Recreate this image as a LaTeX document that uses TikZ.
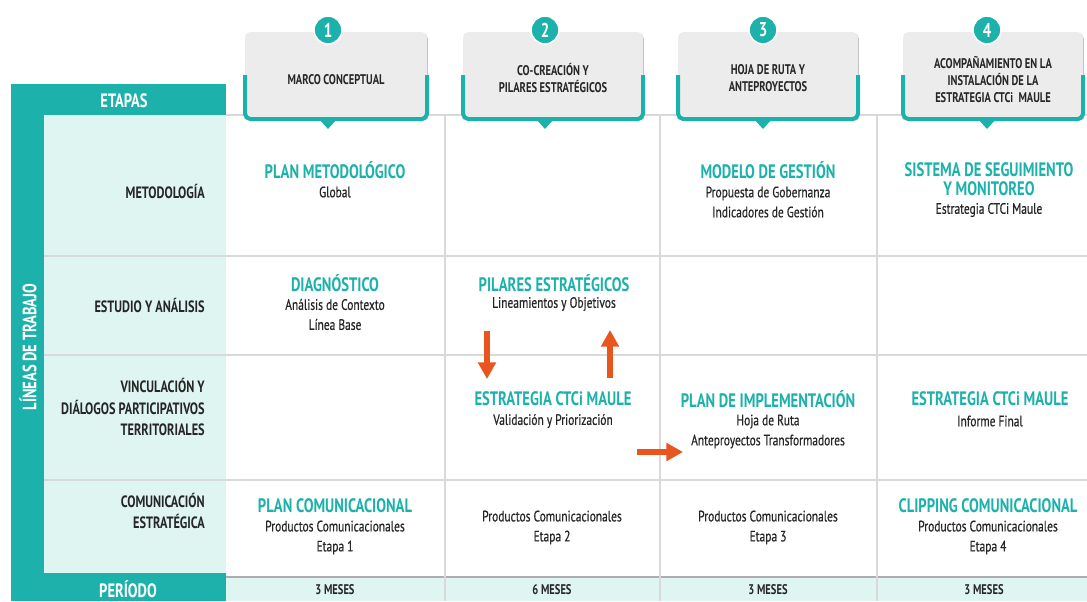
\documentclass[tikz,border=0pt]{standalone}
\usepackage{fontspec}
\setmainfont{PT Sans}[FakeStretch=0.75]
\newfontfamily\bodyfont{PT Sans}[FakeStretch=0.76,FakeBold=0.5]
\usetikzlibrary{arrows.meta,shadows}
\definecolor{teal1}{HTML}{1DB1AB}
\definecolor{pale}{HTML}{DFF5F2}
\definecolor{ink}{HTML}{262626}
\definecolor{gridc}{HTML}{D9D9D9}
\definecolor{boxg}{HTML}{ECECEC}
\definecolor{orng}{HTML}{E8551F}
\begin{document}
\begin{tikzpicture}[x=0.75pt,y=-0.75pt,
  hd/.style={text=teal1,font=\bfseries\fontsize{14.6}{14.3}\selectfont,align=center,inner sep=0pt},
  bd/.style={text=ink,font=\bodyfont\fontsize{11.3}{15}\selectfont,align=center,inner sep=0pt},
  lab/.style={text=ink,font=\bfseries\fontsize{12.3}{16}\selectfont,align=right,anchor=east,inner sep=0pt},
  band/.style={text=white,font=\bfseries\fontsize{14.5}{14}\selectfont,inner sep=0pt},
  ettxt/.style={text=ink,font=\bfseries\fontsize{10.5}{12.75}\selectfont,align=center,inner sep=0pt},
  numc/.style={circle,fill=teal1,draw=white,line width=1.2pt,minimum size=21pt,inner sep=0pt,text=white,font=\bfseries\fontsize{15}{15}\selectfont},
  mes/.style={text=ink,font=\bfseries\fontsize{10.5}{10}\selectfont,inner sep=0pt},
  gridl/.style={draw=gridc,line width=0.8pt},
  bracket/.style={draw=teal1,line width=3pt,rounded corners=4pt},
  hbox/.style={fill=boxg,rounded corners=4pt,drop shadow={shadow xshift=0.6pt,shadow yshift=-0.9pt,opacity=0.25,fill=black}},
  oarrow/.style={draw=orng,line width=5pt,-{Triangle[length=12.5pt,width=13pt]}},
]
\useasboundingbox (0,0) rectangle (1087,601);
\fill[white] (0,0) rectangle (1087,601);

% left frame: teal band with pale label panel
\fill[teal1] (11,84) rectangle (226,601);
\fill[pale] (44,115) rectangle (226,573);
% period row
\fill[pale] (226,577) rectangle (1087,601);

% grid
\draw[gridl] (44,256) -- (1087,256);
\draw[gridl] (44,355) -- (1087,355);
\draw[gridl] (44,480) -- (1087,480);
\draw[gridl] (226,115) -- (1087,115);
\draw[draw=gridc!80!black,line width=0.8pt] (226,577) -- (1087,577);
\foreach \xx in {445,660,877} \draw[gridl] (\xx,115) -- (\xx,601);

% band labels
\node[band] (etapas) at (124,101) {ETAPAS};
\node[band] (periodo) at (128,589) {PERÍODO};
\node[band,rotate=90] (lineas) at (28,347) {LÍNEAS DE TRABAJO};

% row labels
\node[lab] (lmet) at (205,191) {METODOLOGÍA};
\node[lab] (lest) at (205,305) {ESTUDIO Y ANÁLISIS};
\node[lab] (lvin) at (205,407) {VINCULACIÓN Y\\DIÁLOGOS PARTICIPATIVOS\\TERRITORIALES};
\node[lab] (lcom) at (205,511) {COMUNICACIÓN\\ESTRATÉGICA};

% stage headers
\foreach \L/\R/\cx in {245/427/328, 463/643/545, 678/858/763, 903/1083/987}{
  \fill[hbox] (\L,32) rectangle (\R,120);
  \draw[bracket] (\L,75) -- (\L,119) -- (\R,119) -- (\R,75);
  \fill[teal1] (\cx-9,119) -- (\cx+9,119) -- (\cx,129) -- cycle;
}
\node[numc] (n1) at (328,30) {1};
\node[numc] (n2) at (545,30) {2};
\node[numc] (n3) at (763,30) {3};
\node[numc] (n4) at (987,30) {4};
\node[ettxt] (e1) at (336,80) {MARCO CONCEPTUAL};
\node[ettxt] (e2) at (553,78.5) {CO-CREACIÓN Y\\PILARES ESTRATÉGICOS};
\node[ettxt] (e3) at (768,78.5) {HOJA DE RUTA Y\\ANTEPROYECTOS};
\node[ettxt] (e4) at (993,80) {ACOMPAÑAMIENTO EN LA\\INSTALACIÓN DE LA\\ESTRATEGIA CTCi~ MAULE};

% row 1: metodologia
\node[hd] (m1h) at (335,170) {PLAN METODOLÓGICO};
\node[bd] (m1b) at (335,192) {Global};
\node[hd] (m3h) at (768,170) {MODELO DE GESTIÓN};
\node[bd] (m3b) at (768,202) {Propuesta de Gobernanza\\Indicadores de Gestión};
\node[hd] (m4h) at (989,179.5) {SISTEMA DE SEGUIMIENTO\\Y MONITOREO};
\node[bd] (m4b) at (989,210) {Estrategia CTCi Maule};

% row 2: estudio y analisis
\node[hd] (s1h) at (335,283) {DIAGNÓSTICO};
\node[bd] (s1b) at (335,314.5) {Análisis de Contexto\\Línea Base};
\node[hd] (s2h) at (554,283) {PILARES ESTRATÉGICOS};
\node[bd] (s2b) at (554,304) {Lineamientos y Objetivos};

% row 3: vinculacion
\node[hd] (v2h) at (553,399) {ESTRATEGIA CTCi MAULE};
\node[bd] (v2b) at (553,421) {Validación y Priorización};
\node[hd] (v3h) at (768,399) {PLAN DE IMPLEMENTACIÓN};
\node[bd] (v3b) at (768,431.5) {Hoja de Ruta\\Anteproyectos Transformadores};
\node[hd] (v4h) at (990,399) {ESTRATEGIA CTCi MAULE};
\node[bd] (v4b) at (990,421) {Informe Final};

% row 4: comunicacion
\node[hd] (c1h) at (335,506) {PLAN COMUNICACIONAL};
\node[bd] (c1b) at (335,537.5) {Productos Comunicacionales\\Etapa 1};
\node[bd] (c2b) at (552,527.5) {Productos Comunicacionales\\Etapa 2};
\node[bd] (c3b) at (768,527.5) {Productos Comunicacionales\\Etapa 3};
\node[hd] (c4h) at (988,506) {CLIPPING COMUNICACIONAL};
\node[bd] (c4b) at (988,537.5) {Productos Comunicacionales\\Etapa 4};

% period
\node[mes] (p1) at (335,590) {3 MESES};
\node[mes] (p2) at (552,590) {6 MESES};
\node[mes] (p3) at (768,590) {3 MESES};
\node[mes] (p4) at (984,590) {3 MESES};

% flow arrows
\coordinate (ad1) at (487,331);
\coordinate (ad2) at (487,379);
\coordinate (au1) at (610,378);
\coordinate (au2) at (610,330);
\coordinate (ar1) at (637,452);
\coordinate (ar2) at (683,452);
\draw[oarrow] (ad1) -- (ad2);
\draw[oarrow] (au1) -- (au2);
\draw[oarrow] (ar1) -- (ar2);
\end{tikzpicture}
\end{document}
